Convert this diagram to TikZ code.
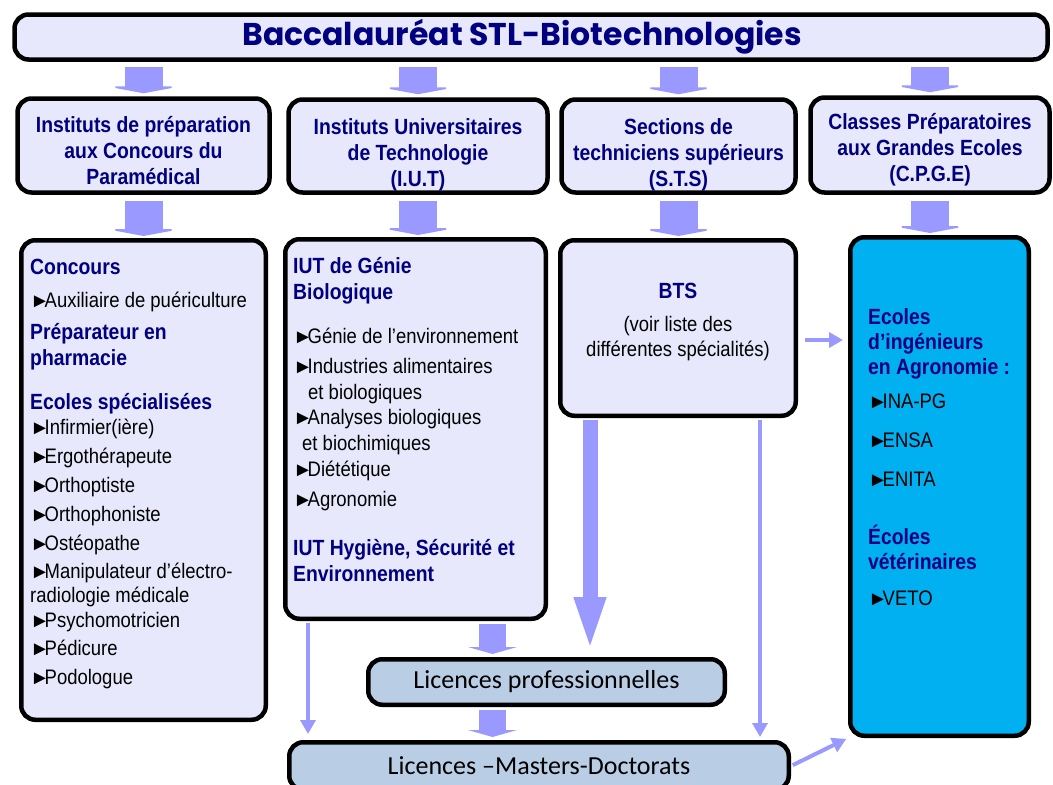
\documentclass[tikz,border=0pt]{standalone}
\usepackage{fontspec}
\setmainfont{Liberation Sans}
\newfontfamily\narrowfont[FakeStretch=0.88]{Liberation Sans}
\newfontfamily\pucefont{Liberation Sans}
\newfontfamily\titlefont{Poppins}
\newfontfamily\licfont{Carlito}
\usetikzlibrary{arrows.meta,positioning}

\definecolor{navy}{RGB}{0,0,128}
\definecolor{lavender}{RGB}{232,232,252}
\definecolor{steel}{RGB}{185,205,229}
\definecolor{cyanbox}{RGB}{0,176,240}
\definecolor{arrowblue}{RGB}{153,153,255}

\newcommand{\puce}{\makebox[14.5pt][l]{\pucefont\fontsize{20}{20}\selectfont ►}}
\newcommand{\hd}[1]{{\fontsize{22}{24}\selectfont\bfseries\color{navy}#1}}

\tikzset{
  box/.style={draw=black, line width=4.5pt, rounded corners=14pt, fill=lavender},
  headtext/.style={font=\narrowfont\bfseries\fontsize{22}{26}\selectfont, text=navy, align=center},
  listtext/.style={font=\narrowfont\fontsize{21}{24}\selectfont, align=left, anchor=north west, inner sep=0pt},
  bigarrow/.style={draw=arrowblue, line width=38pt, -{Triangle[width=75pt,length=7pt]}},
  midarrow/.style={draw=arrowblue, line width=27pt, -{Triangle[width=49pt,length=7pt]}},
  tallarrow/.style={draw=arrowblue, line width=15pt, -{Triangle[width=28pt,length=56pt]}},
  thinarrow/.style={draw=arrowblue, line width=4pt, -{Triangle[width=15pt,length=14pt]}},
}

\begin{document}
\begin{tikzpicture}[x=1pt, y=-1pt]
   \useasboundingbox (0,0) rectangle (1053,785);

   % top
   \node[box, minimum width=1033pt, minimum height=45pt, text=navy,
         font=\titlefont\bfseries\fontsize{31.5}{31.5}\selectfont] (bac) at (531,37) {\hspace*{-18pt}Baccalauréat STL-Biotechnologies};

   % first row
   \node[box, minimum width=252pt, minimum height=94pt] (ip) at (143.5,145.5) {};
   \node[box, minimum width=259pt, minimum height=93pt] (iut) at (418,146) {};
   \node[box, minimum width=234pt, minimum height=93pt] (sts) at (678.5,146) {};
   \node[box, minimum width=239pt, minimum height=95pt] (cpge) at (930,145) {};
   \node[headtext] (iptxt) at ([yshift=-5pt]ip.center) {Instituts de préparation\\aux Concours du\\Paramédical};
   \node[headtext] (iuttxt) at ([yshift=-9pt]iut.center) {Instituts Universitaires\\de Technologie\\(I.U.T)};
   \node[headtext] (ststxt) at ([yshift=-9pt]sts.center) {Sections de\\techniciens supérieurs\\(S.T.S)};
   \node[headtext] (cpgetxt) at ([yshift=-5pt]cpge.center) {Classes Préparatoires\\aux Grandes Ecoles\\(C.P.G.E)};

   % second row
   \node[box, minimum width=244.5pt, minimum height=479.5pt] (concours) at (143.5,480) {};
   \node[box, minimum width=260.5pt, minimum height=379.5pt] (iutg) at (415.5,429) {};
   \node[box, minimum width=235.5pt, minimum height=175.5pt] (bts) at (678,328) {};
   \node[box, fill=cyanbox, minimum width=178.5pt, minimum height=498.5pt] (ecoles) at (939.5,486.5) {};

   % bottom
   \node[box, fill=steel, minimum width=356.5pt, minimum height=45.5pt, font=\licfont\fontsize{26}{26}\selectfont] (lpro) at (546.5,682) {Licences professionnelles};
   \node[box, fill=steel, minimum width=499.5pt, minimum height=47.5pt, font=\licfont\fontsize{26}{26}\selectfont] (lmd) at (539,766) {Licences –Masters-Doctorats};

   % texts
   \node[listtext, below right=21pt and 11pt of concours.north west] (concourslist) {%
      \hd{Concours}\\[9pt]
      \puce Auxiliaire de puériculture\\[8pt]
      \hd{Préparateur en}\\[2pt]
      \hd{pharmacie}\\[20pt]
      \hd{Ecoles spécialisées}\\[1pt]
      \puce Infirmier(ière)\\[5pt]
      \puce Ergothérapeute\\[5pt]
      \puce Orthoptiste\\[5pt]
      \puce Orthophoniste\\[5pt]
      \puce Ostéopathe\\[4pt]
      \puce Manipulateur d’électro-\\
      radiologie médicale\\[1pt]
      \puce Psychomotricien\\[4pt]
      \puce Pédicure\\[5pt]
      \puce Podologue};
   \node[listtext, below right=20pt and 10pt of iutg.north west] (iutglist) {%
      \hd{IUT de Génie}\\[2pt]
      \hd{Biologique}\\[20pt]
      \puce Génie de l’environnement\\[6pt]
      \puce Industries alimentaires\\[2pt]
      \hspace*{15pt}et biologiques\\[1pt]
      \puce Analyses biologiques\\[2pt]
      \hspace*{9pt}et biochimiques\\[2pt]
      \puce Diététique\\[6pt]
      \puce Agronomie\\[25pt]
      \hd{IUT Hygiène, Sécurité et}\\[2pt]
      \hd{Environnement}};
   \node[listtext, anchor=north, align=center, below=45pt of bts.north] (btslist) {%
      \hd{BTS}\\[9pt]
      (voir liste des\\[1pt]
      différentes spécialités)};
   \node[listtext, below right=73pt and 20pt of ecoles.north west] (ecoleslist) {%
      \hd{Ecoles}\\[1pt]
      \hd{d’ingénieurs}\\[1pt]
      \hd{en Agronomie :}\\[10pt]
      \puce INA-PG\\[15pt]
      \puce ENSA\\[15pt]
      \puce ENITA\\[34pt]
      \hd{Écoles}\\[1pt]
      \hd{vétérinaires}\\[12pt]
      \puce VETO};

   % arrows
   \foreach \b in {ip,iut,sts,cpge}
      \draw[bigarrow, shorten <=5pt, shorten >=3pt] (bac.south -| \b.north) -- (\b.north);
   \foreach \a/\b in {ip/concours, iut/iutg, sts/bts, cpge/ecoles}
      \draw[bigarrow, shorten <=6pt, shorten >=2pt] (\a.south) -- (\a.south |- \b.north);

   \coordinate (lx) at ([xshift=-54pt]lpro.north);
   \draw[midarrow, shorten <=3pt, shorten >=3pt] (iutg.south -| lx) -- (lx);
   \draw[midarrow, shorten <=3pt, shorten >=3pt] (lpro.south -| lx) -- (lmd.north -| lx);

   \coordinate (bx) at ([xshift=32pt]bts.south west);
   \draw[tallarrow, shorten <=2pt, shorten >=4pt] (bx) -- (bx |- lpro.north);

   \coordinate (iutfoot) at ([xshift=25pt]iutg.south west);
   \draw[thinarrow, shorten <=2pt, shorten >=6pt] (iutfoot) -- (iutfoot |- lmd.north);
   \coordinate (btsfoot) at ([xshift=-38pt]bts.south east);
   \draw[thinarrow, shorten <=2pt, shorten >=3pt] (btsfoot) -- (btsfoot |- lmd.north);
   \coordinate (btsside) at ([yshift=-12pt]bts.east);
   \draw[thinarrow, shorten <=7pt, shorten >=5pt] (btsside) -- (btsside -| ecoles.west);
   \draw[thinarrow, shorten <=2pt, shorten >=2pt] (lmd.east) -- (ecoles.south west);

\end{tikzpicture}
\end{document}
